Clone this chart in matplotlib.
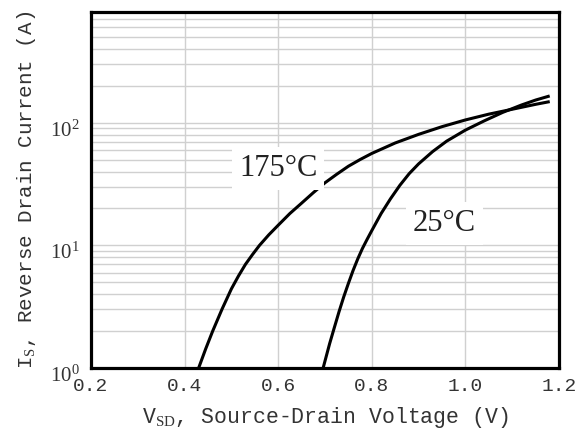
import matplotlib
matplotlib.use('Agg')
import matplotlib.pyplot as plt
import matplotlib.transforms as mtransforms
from matplotlib.ticker import FixedLocator, LogLocator, NullFormatter

# curvas: V_SD (V) vs I_S (A)
v_175 = [0.43, 0.445, 0.46, 0.48, 0.50, 0.515, 0.53, 0.545, 0.56, 0.58,
         0.60, 0.625, 0.65, 0.675, 0.70, 0.725, 0.75, 0.775, 0.80, 0.85,
         0.90, 0.95, 1.00, 1.05, 1.10, 1.15, 1.177]
i_175 = [1.0, 1.43, 2.0, 3.02, 4.42, 5.62, 7.0, 8.41, 10.0, 12.2,
         14.6, 18.2, 22.1, 26.9, 32.4, 38.0, 44.2, 50.1, 56.2, 68.4,
         80.4, 92.9, 105.4, 117.5, 128.8, 141.3, 147.9]

v_25 = [0.696, 0.71, 0.72, 0.73, 0.74, 0.75, 0.76, 0.77, 0.78, 0.79,
        0.80, 0.82, 0.84, 0.86, 0.88, 0.90, 0.93, 0.96, 1.00, 1.04,
        1.08, 1.12, 1.15, 1.177]
i_25 = [1.0, 1.585, 2.14, 2.88, 3.80, 4.90, 6.24, 7.76, 9.44, 11.2,
        13.2, 18.2, 24.0, 30.9, 38.5, 46.2, 58.2, 70.8, 87.1, 103.5,
        121.6, 139.6, 153.1, 164.1]

x_ticks = [0.2, 0.4, 0.6, 0.8, 1.0, 1.2]
x_tick_labels = ['0.2', '0.4', '0.6', '0.8', '1.0', '1.2']
y_ticks = [1, 10, 100]
y_tick_labels = [r'$10^{0}$', r'$10^{1}$', r'$10^{2}$']

etiquetas = ['175°C', '25°C']
pos_etiquetas = [(0.600, 42.0), (0.955, 15.0)]

plt.rcParams['mathtext.fontset'] = 'custom'
plt.rcParams['mathtext.rm'] = 'Liberation Serif'
plt.rcParams['mathtext.it'] = 'Liberation Serif:italic'
plt.rcParams['mathtext.bf'] = 'Liberation Serif:bold'

fig = plt.figure(figsize=(5.81, 4.34), dpi=100)
ax = fig.add_axes([91 / 581, 66 / 434, 468 / 581, 356 / 434])

ax.plot(v_175, i_175, color='black', lw=2.2, zorder=3)
ax.plot(v_25, i_25, color='black', lw=2.2, zorder=3)

ax.set_yscale('log')
ax.set_xlim(0.2, 1.2)
ax.set_ylim(1, 800)

ax.set_xticks(x_ticks)
ax.set_xticklabels(x_tick_labels, family='Liberation Mono', fontsize=14)
ax.set_yticks(y_ticks)
ax.set_yticklabels(y_tick_labels, fontsize=15)
ax.yaxis.set_minor_locator(LogLocator(base=10, subs=range(2, 10)))
ax.yaxis.set_minor_formatter(NullFormatter())
ax.tick_params(which='both', length=0)
ax.tick_params(axis='x', pad=7, colors='#333333')
ax.tick_params(axis='y', pad=8, colors='#333333')

# bajar un poco las etiquetas del eje y como en el original
off = mtransforms.ScaledTranslation(0, -5 / 100, fig.dpi_scale_trans)
for lab in ax.get_yticklabels():
    lab.set_transform(lab.get_transform() + off)

ax.xaxis.set_major_locator(FixedLocator(x_ticks))
ax.grid(True, axis='x', which='major', color='#d0d0d0', lw=1.0)
ax.grid(True, axis='y', which='both', color='#d0d0d0', lw=1.0)
ax.set_axisbelow(True)

for s in ax.spines.values():
    s.set_linewidth(2.3)
    s.set_color('black')

for texto, (xv, yv) in zip(etiquetas, pos_etiquetas):
    ax.text(xv, yv, texto, family='Liberation Serif', fontsize=22,
            ha='center', va='center', color='#222222', zorder=4,
            bbox=dict(facecolor='white', edgecolor='none', pad=5))

ax.set_xlabel(r'V$_{\mathrm{SD}}$, Source-Drain Voltage (V)',
              family='Liberation Mono', fontsize=15.5, color='#333333')
ax.set_ylabel(r'I$_{\mathrm{S}}$, Reverse Drain Current (A)',
              family='Liberation Mono', fontsize=15, color='#333333')
ax.xaxis.set_label_coords(0.5, -0.104)
ax.yaxis.set_label_coords(-0.113, 0.5)

fig.savefig('out.png', dpi=100)
